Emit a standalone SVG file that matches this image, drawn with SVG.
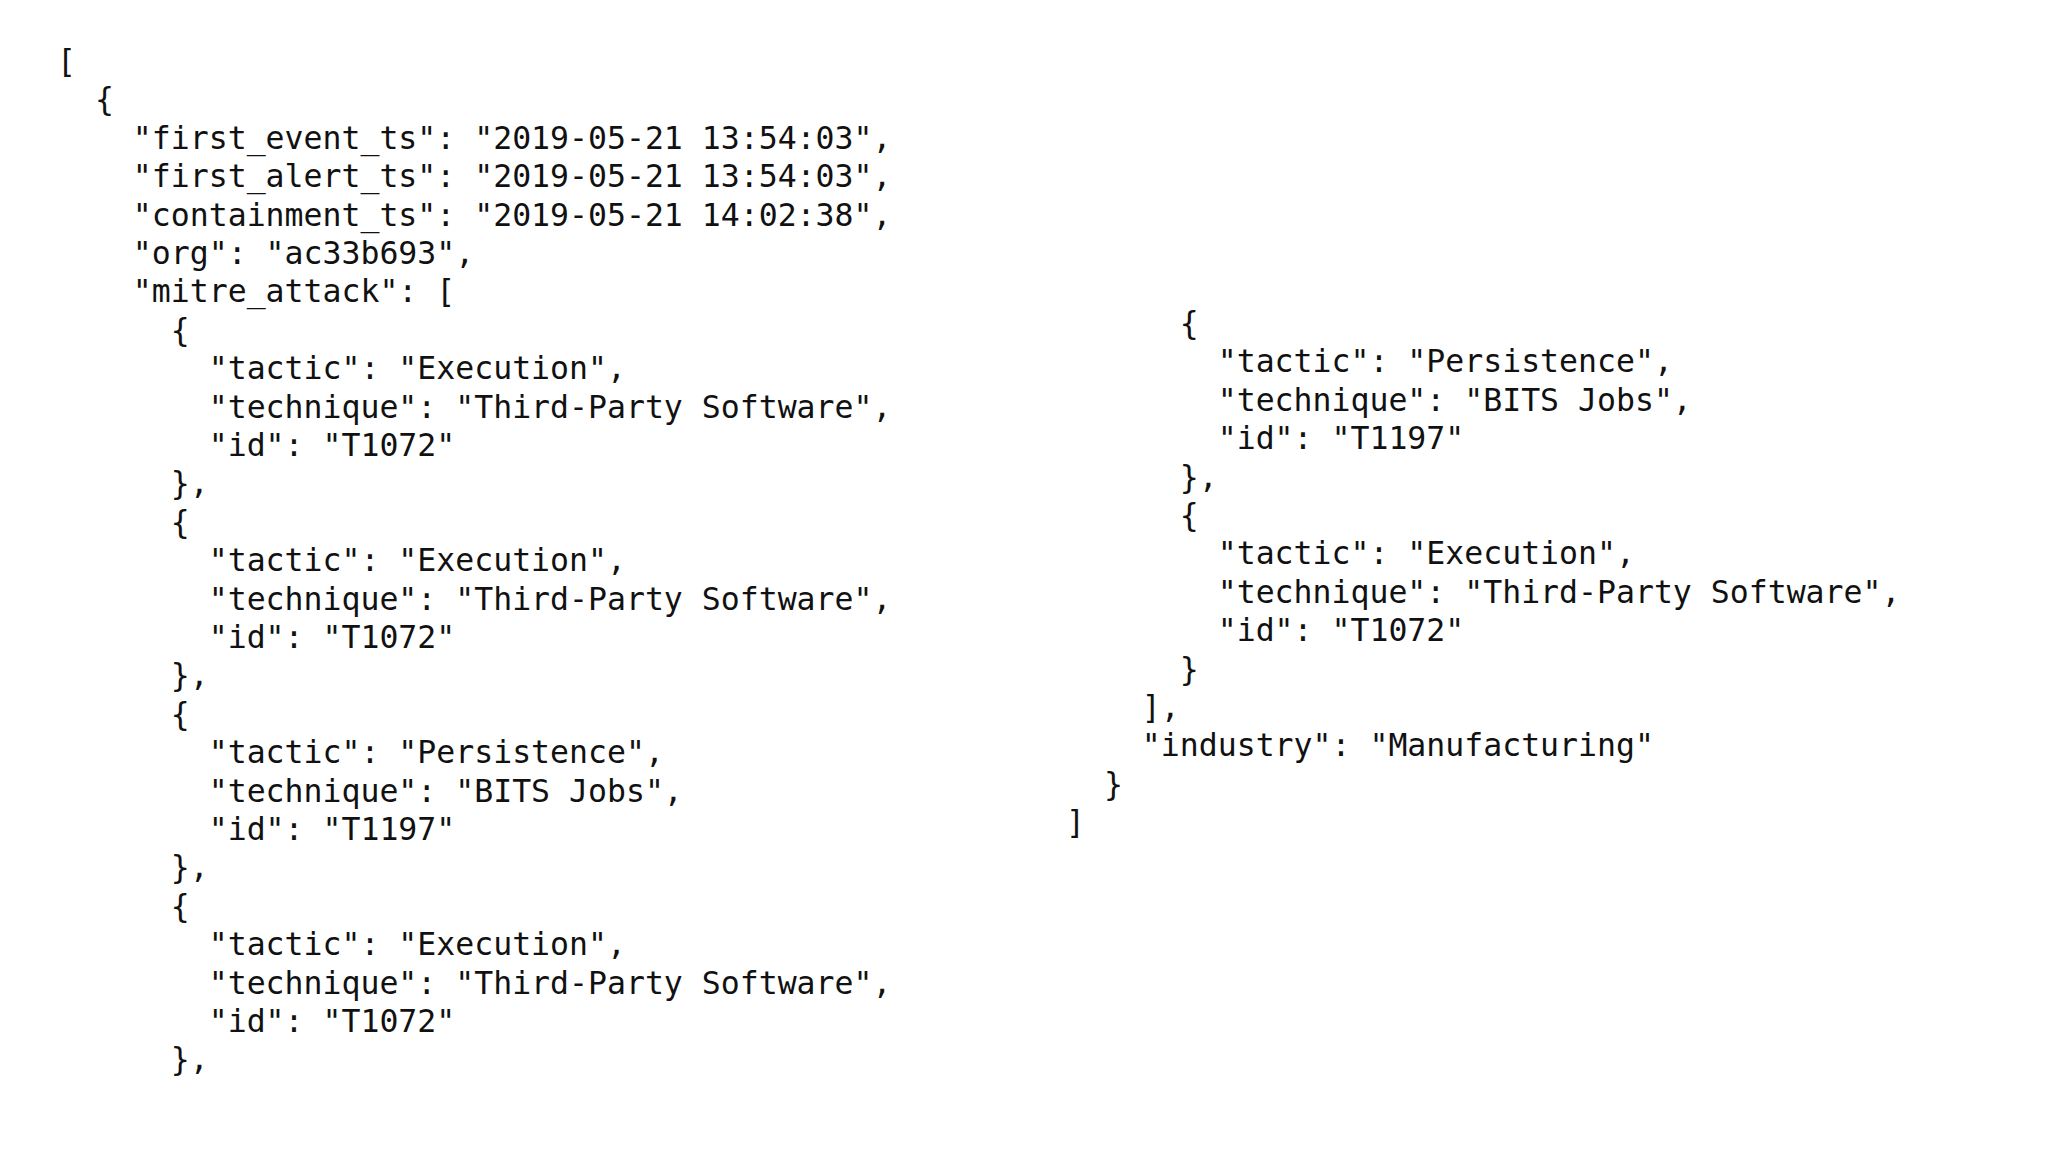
<svg xmlns="http://www.w3.org/2000/svg" width="2048" height="1152" viewBox="0 0 2048 1152">
<style>
.c{font-family:"DejaVu Sans Mono","Liberation Mono",monospace;font-size:31.5px;fill:#111;white-space:pre}
</style>
<rect width="2048" height="1152" fill="#fff"/>
<g id="left">
<text class="c" xml:space="preserve" x="57" y="72"><tspan x="57" dy="0">[</tspan><tspan x="57" dy="38.4">  {</tspan><tspan x="57" dy="38.4">    "first_event_ts": "2019-05-21 13:54:03",</tspan><tspan x="57" dy="38.4">    "first_alert_ts": "2019-05-21 13:54:03",</tspan><tspan x="57" dy="38.4">    "containment_ts": "2019-05-21 14:02:38",</tspan><tspan x="57" dy="38.4">    "org": "ac33b693",</tspan><tspan x="57" dy="38.4">    "mitre_attack": [</tspan><tspan x="57" dy="38.4">      {</tspan><tspan x="57" dy="38.4">        "tactic": "Execution",</tspan><tspan x="57" dy="38.4">        "technique": "Third-Party Software",</tspan><tspan x="57" dy="38.4">        "id": "T1072"</tspan><tspan x="57" dy="38.4">      },</tspan><tspan x="57" dy="38.4">      {</tspan><tspan x="57" dy="38.4">        "tactic": "Execution",</tspan><tspan x="57" dy="38.4">        "technique": "Third-Party Software",</tspan><tspan x="57" dy="38.4">        "id": "T1072"</tspan><tspan x="57" dy="38.4">      },</tspan><tspan x="57" dy="38.4">      {</tspan><tspan x="57" dy="38.4">        "tactic": "Persistence",</tspan><tspan x="57" dy="38.4">        "technique": "BITS Jobs",</tspan><tspan x="57" dy="38.4">        "id": "T1197"</tspan><tspan x="57" dy="38.4">      },</tspan><tspan x="57" dy="38.4">      {</tspan><tspan x="57" dy="38.4">        "tactic": "Execution",</tspan><tspan x="57" dy="38.4">        "technique": "Third-Party Software",</tspan><tspan x="57" dy="38.4">        "id": "T1072"</tspan><tspan x="57" dy="38.4">      },</tspan></text>
</g>
<g id="right">
<text class="c" xml:space="preserve" x="1066" y="334"><tspan x="1066" dy="0">      {</tspan><tspan x="1066" dy="38.4">        "tactic": "Persistence",</tspan><tspan x="1066" dy="38.4">        "technique": "BITS Jobs",</tspan><tspan x="1066" dy="38.4">        "id": "T1197"</tspan><tspan x="1066" dy="38.4">      },</tspan><tspan x="1066" dy="38.4">      {</tspan><tspan x="1066" dy="38.4">        "tactic": "Execution",</tspan><tspan x="1066" dy="38.4">        "technique": "Third-Party Software",</tspan><tspan x="1066" dy="38.4">        "id": "T1072"</tspan><tspan x="1066" dy="38.4">      }</tspan><tspan x="1066" dy="38.4">    ],</tspan><tspan x="1066" dy="38.4">    "industry": "Manufacturing"</tspan><tspan x="1066" dy="38.4">  }</tspan><tspan x="1066" dy="38.4">]</tspan></text>
</g>
</svg>
